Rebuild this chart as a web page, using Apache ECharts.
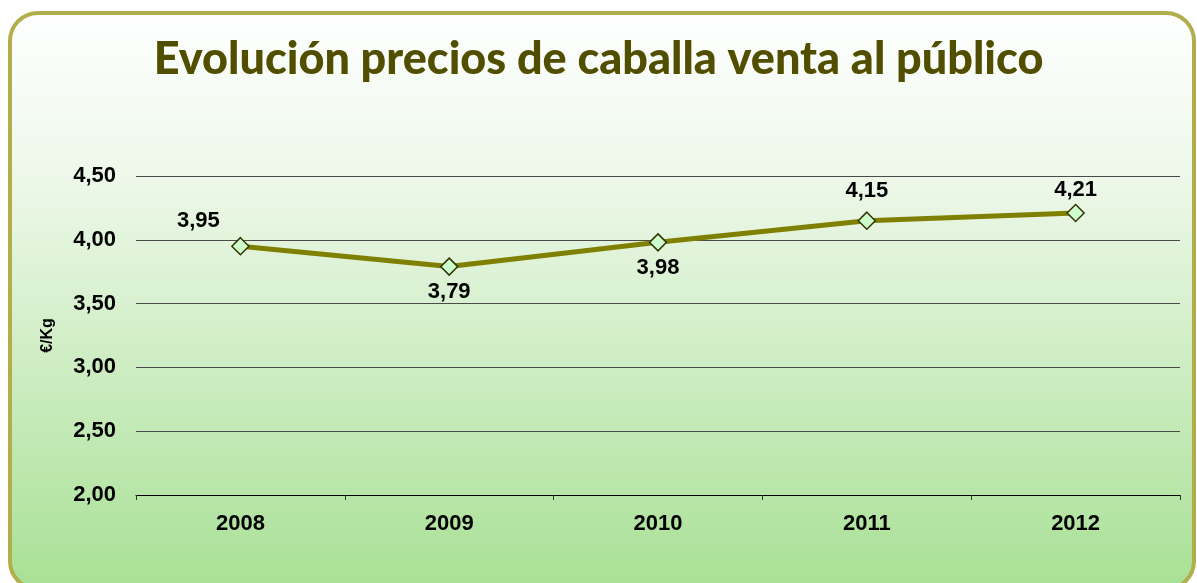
<!DOCTYPE html>
<html>
<head>
<meta charset="utf-8">
<script src="https://cdn.jsdelivr.net/npm/echarts@6/dist/echarts.min.js"></script>
<style>
html,body{margin:0;padding:0;background:#fff;}
#c{width:1197px;height:583px;}
</style>
</head>
<body>
<div id="c"></div>
<script>
var categories = ['2008', '2009', '2010', '2011', '2012'];
var prices = [3.95, 3.79, 3.98, 4.15, 4.21];
var labelPlacement = ['top', 'bottom', 'bottom', 'top', 'top'];
var titleText = 'Evolución precios de caballa venta al público';
var yAxisName = '€/Kg';

var chart = echarts.init(document.getElementById('c'), null, {renderer: 'canvas'});
var fmt = function (v) { return Number(v).toFixed(2).replace('.', ','); };

var labelOffsets = [[-42, 0], [0, 0], [0, 0], [0, -4], [0, 2]];
var seriesData = prices.map(function (v, i) {
  return {value: v, label: {position: labelPlacement[i], offset: labelOffsets[i]}};
});

chart.setOption({
  backgroundColor: '#ffffff',
  animation: false,
  graphic: [{
    type: 'rect',
    z: -10,
    silent: true,
    shape: {x: 10, y: 13, width: 1184, height: 576, r: 28},
    style: {
      fill: new echarts.graphic.LinearGradient(0, 0, 0, 1, [
        {offset: 0, color: '#feffff'},
        {offset: 0.28, color: '#eef8ea'},
        {offset: 1, color: '#a8e095'}
      ]),
      stroke: '#b3ae4c',
      lineWidth: 4
    }
  }],
  title: {
    text: titleText,
    left: 'center',
    top: 32,
    textStyle: {
      fontFamily: 'Lato',
      fontWeight: 900,
      fontSize: 45,
      color: '#524e00'
    }
  },
  grid: {left: 136, right: 17, top: 176, bottom: 88, containLabel: false},
  xAxis: {
    type: 'category',
    data: categories,
    boundaryGap: true,
    axisLine: {show: true, lineStyle: {color: '#000', width: 1}},
    axisTick: {show: true, length: 5, lineStyle: {color: '#333'}},
    axisLabel: {
      fontFamily: 'Liberation Sans, Arial, sans-serif',
      fontWeight: 'bold',
      fontSize: 22,
      color: '#000',
      margin: 18
    }
  },
  yAxis: {
    type: 'value',
    min: 2,
    max: 4.5,
    interval: 0.5,
    name: yAxisName,
    nameLocation: 'middle',
    nameRotate: 90,
    nameGap: 80,
    nameTextStyle: {
      fontFamily: 'Liberation Sans, Arial, sans-serif',
      fontWeight: 'bold',
      fontSize: 16,
      color: '#000'
    },
    axisLine: {show: false},
    axisTick: {show: false},
    splitLine: {show: true, lineStyle: {color: '#4a4a4a', width: 1}},
    axisLabel: {
      formatter: fmt,
      fontFamily: 'Liberation Sans, Arial, sans-serif',
      fontWeight: 'bold',
      fontSize: 22,
      color: '#000',
      margin: 20
    }
  },
  series: [{
    type: 'line',
    data: seriesData,
    symbol: 'diamond',
    symbolSize: 17,
    lineStyle: {color: '#808000', width: 5},
    itemStyle: {color: '#ccffcc', borderColor: '#333300', borderWidth: 1.5},
    label: {
      show: true,
      formatter: function (p) { return fmt(p.value); },
      fontFamily: 'Liberation Sans, Arial, sans-serif',
      fontWeight: 'bold',
      fontSize: 22,
      color: '#000',
      distance: 5
    }
  }]
});
</script>
</body>
</html>
